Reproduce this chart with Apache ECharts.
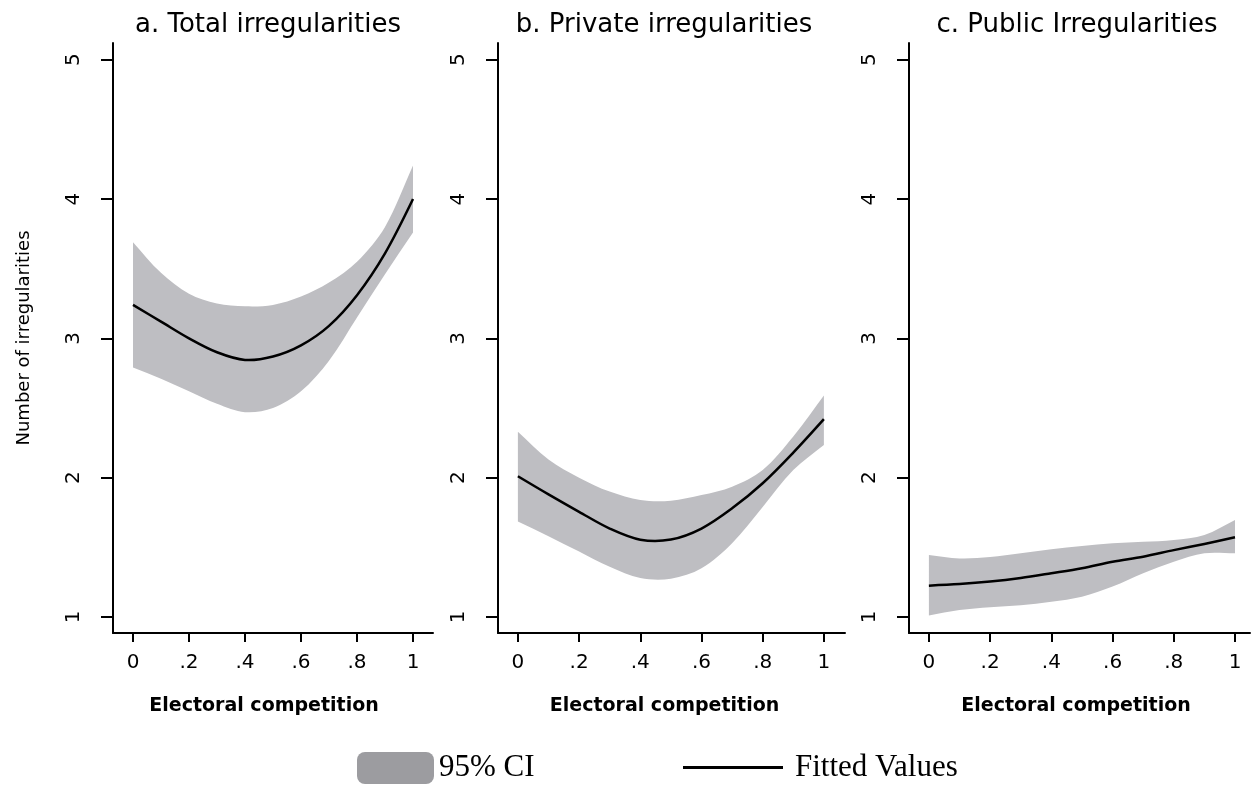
<!DOCTYPE html>
<html>
<head>
<meta charset="utf-8">
<title>Electoral competition and irregularities</title>
<script src="https://cdn.jsdelivr.net/npm/echarts@6.0.0/dist/echarts.min.js"></script>
<style>
  html, body { margin: 0; padding: 0; background: #fff; }
  #chart { width: 1252px; height: 786px; }
</style>
</head>
<body>
<div id="chart"></div>
<script>
// electoral competition (x) where the curves were read
var competition = [0, 0.1, 0.2, 0.3, 0.4, 0.5, 0.6, 0.7, 0.8, 0.9, 1]
var xTicks = [0, 0.2, 0.4, 0.6, 0.8, 1]
var yTicks = [1, 2, 3, 4, 5]
var panelTitles = ['a. Total irregularities', 'b. Private irregularities', 'c. Public Irregularities']

// a. total
var totalFit = [3.24, 3.12, 3.00, 2.90, 2.845, 2.87, 2.95, 3.09, 3.31, 3.61, 4.00]
var totalLow = [2.79, 2.71, 2.62, 2.53, 2.47, 2.50, 2.62, 2.84, 3.15, 3.46, 3.76]
var totalHigh = [3.69, 3.47, 3.32, 3.25, 3.23, 3.24, 3.30, 3.40, 3.55, 3.80, 4.24]
// b. private
var privateFit = [2.01, 1.88, 1.755, 1.635, 1.555, 1.556, 1.635, 1.78, 1.96, 2.18, 2.42]
var privateLow = [1.685, 1.58, 1.47, 1.36, 1.28, 1.275, 1.35, 1.53, 1.79, 2.055, 2.235]
var privateHigh = [2.33, 2.13, 2.00, 1.90, 1.84, 1.835, 1.875, 1.935, 2.055, 2.295, 2.59]
// c. public
var publicFit = [1.225, 1.236, 1.254, 1.28, 1.314, 1.35, 1.397, 1.433, 1.48, 1.524, 1.572]
var publicLow = [1.01, 1.05, 1.07, 1.085, 1.11, 1.146, 1.218, 1.314, 1.397, 1.457, 1.457]
var publicHigh = [1.445, 1.42, 1.43, 1.457, 1.486, 1.51, 1.53, 1.54, 1.553, 1.589, 1.697]

var panels = [
  { fit: totalFit, low: totalLow, high: totalHigh },
  { fit: privateFit, low: privateLow, high: privateHigh },
  { fit: publicFit, low: publicLow, high: publicHigh }
]

// layout of the three plots
var grids = [
  { left: 113, top: 43, width: 320, height: 590 },
  { left: 498, top: 43, width: 347, height: 590 },
  { left: 909, top: 43, width: 341, height: 590 }
]
var xRanges = [[-0.0714, 1.0714], [-0.065, 1.069], [-0.065, 1.049]]
var titleCenters = [268, 664, 1077]
var xNameShift = [18, 14, 7]

var sans = 'DejaVu Sans'
var serif = 'Liberation Serif'
var bandColor = '#bebec2'
var smoothness = 0.33

function tickText (v) {
  if (v === 0) return '0'
  if (v === 1) return '1'
  return String(v).replace('0.', '.')
}

// CI band: upper edge left->right, lower edge back; end points doubled so the ends stay square
function bandItem (p) {
  return function (params, api) {
    if (params.dataIndex !== 0) return null
    var upper = competition.map(function (x, k) { return api.coord([x, p.high[k]]) })
    var lower = competition.map(function (x, k) { return api.coord([x, p.low[k]]) }).reverse()
    var last = upper.length - 1
    var pts = [upper[0]].concat(upper, [upper[last], lower[0]], lower, [lower[last]])
    return {
      type: 'polygon',
      shape: { points: pts, smooth: smoothness },
      style: { fill: bandColor }
    }
  }
}

function fitItem (p) {
  return function (params, api) {
    if (params.dataIndex !== 0) return null
    var pts = competition.map(function (x, k) { return api.coord([x, p.fit[k]]) })
    return {
      type: 'polyline',
      shape: { points: pts, smooth: smoothness },
      style: { stroke: '#000', lineWidth: 2.5, fill: null }
    }
  }
}

var xAxes = panels.map(function (p, i) {
  return {
    gridIndex: i,
    type: 'value',
    min: xRanges[i][0],
    max: xRanges[i][1],
    axisLine: { show: true, onZero: false, lineStyle: { color: '#000', width: 2 } },
    axisTick: { show: true, customValues: xTicks, length: 9, lineStyle: { color: '#000', width: 2 } },
    axisLabel: { customValues: xTicks, formatter: tickText, margin: 20, color: '#000', fontSize: 20, fontFamily: sans },
    splitLine: { show: false },
    name: 'Electoral competition',
    nameLocation: 'middle',
    nameGap: 64,
    nameTextStyle: { color: '#000', fontSize: 19, fontWeight: 'bold', fontFamily: sans, padding: [0, xNameShift[i], 0, 0] }
  }
})

var yAxes = panels.map(function (p, i) {
  var axis = {
    gridIndex: i,
    type: 'value',
    min: 0.885,
    max: 5.12,
    axisLine: { show: true, onZero: false, lineStyle: { color: '#000', width: 2 } },
    axisTick: { show: true, customValues: yTicks, length: 12, lineStyle: { color: '#000', width: 2 } },
    axisLabel: { customValues: yTicks, rotate: 90, margin: 29, color: '#000', fontSize: 20, fontFamily: sans },
    splitLine: { show: false }
  }
  if (i === 0) {
    axis.name = 'Number of irregularities'
    axis.nameLocation = 'middle'
    axis.nameRotate = 90
    axis.nameGap = 80
    axis.nameTextStyle = { color: '#000', fontSize: 18, fontFamily: sans }
  }
  return axis
})

var series = []
panels.forEach(function (p, i) {
  series.push({
    name: '95% CI',
    type: 'custom',
    xAxisIndex: i,
    yAxisIndex: i,
    silent: true,
    itemStyle: { color: bandColor },
    encode: { x: 0, y: [1, 2] },
    data: competition.map(function (x, k) { return [x, p.low[k], p.high[k]] }),
    renderItem: bandItem(p)
  })
  series.push({
    name: 'Fitted Values',
    type: 'custom',
    xAxisIndex: i,
    yAxisIndex: i,
    silent: true,
    z: 3,
    itemStyle: { color: '#000' },
    encode: { x: 0, y: 1 },
    data: competition.map(function (x, k) { return [x, p.fit[k]] }),
    renderItem: fitItem(p)
  })
})

var chart = echarts.init(document.getElementById('chart'))
chart.setOption({
  animation: false,
  backgroundColor: '#fff',
  title: panelTitles.map(function (t, i) {
    return {
      text: t,
      left: titleCenters[i],
      top: 12,
      padding: 0,
      textAlign: 'center',
      textStyle: { color: '#000', fontSize: 26, fontWeight: 'normal', fontFamily: sans }
    }
  }),
  legend: [
    {
      left: 357,
      top: 752,
      padding: 0,
      selectedMode: false,
      itemWidth: 77,
      itemHeight: 32,
      data: [{ name: '95% CI', icon: 'roundRect', itemStyle: { color: '#9c9ca0', borderWidth: 0, opacity: 1 } }],
      textStyle: { color: '#000', fontSize: 31, fontFamily: serif }
    },
    {
      left: 683,
      top: 752,
      padding: 0,
      selectedMode: false,
      itemWidth: 100,
      itemHeight: 3,
      data: [{ name: 'Fitted Values', icon: 'rect', itemStyle: { color: '#000' } }],
      textStyle: { color: '#000', fontSize: 31, fontFamily: serif, padding: [0, 0, 0, 7] }
    }
  ],
  grid: grids,
  xAxis: xAxes,
  yAxis: yAxes,
  series: series
})
</script>
</body>
</html>
